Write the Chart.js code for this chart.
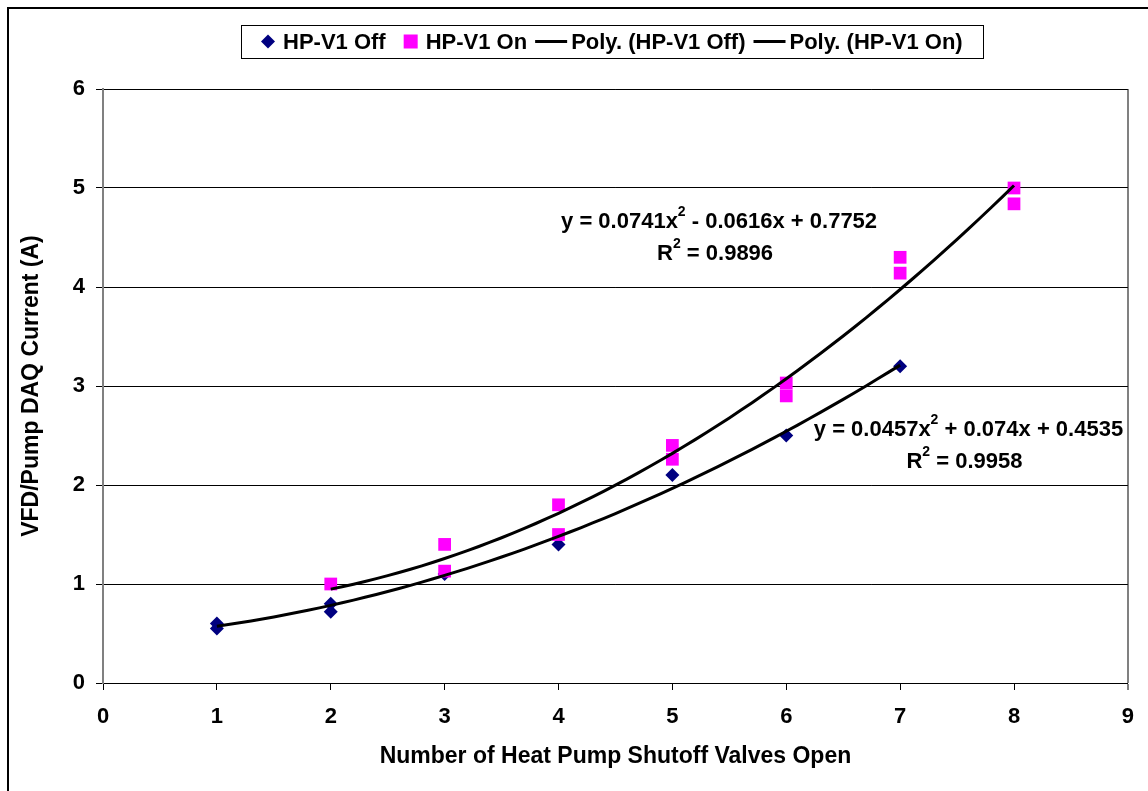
<!DOCTYPE html>
<html>
<head>
<meta charset="utf-8">
<title>VFD/Pump DAQ Current</title>
<script src="https://cdn.jsdelivr.net/npm/chart.js@4.4.0/dist/chart.umd.min.js"></script>
<style>
  html, body { margin: 0; padding: 0; background: #fff; }
  #wrap { width: 1148px; height: 791px; }
</style>
</head>
<body>
<div id="wrap"><canvas id="valveChart"></canvas></div>
<script>
// measured points: valves open vs. current
const offX = [1, 1, 2, 2, 3, 4, 5, 6, 7];
const offY = [0.6, 0.55, 0.8, 0.72, 1.1, 1.4, 2.1, 2.5, 3.2];
const onX = [2, 3, 3, 4, 4, 5, 5, 6, 6, 7, 7, 8, 8];
const onY = [1.0, 1.4, 1.13, 1.8, 1.5, 2.4, 2.26, 3.03, 2.9, 4.3, 4.14, 5.0, 4.84];

// 2nd order fits: [c, b, a] for a*x^2 + b*x + c
const offFit = [0.4535, 0.074, 0.0457];
const onFit = [0.7752, -0.0616, 0.0741];
const offRange = [1, 7];
const onRange = [2, 8];
const offR2 = 0.9958;
const onR2 = 0.9896;

const xTicks = [0, 1, 2, 3, 4, 5, 6, 7, 8, 9];
const yTicks = [0, 1, 2, 3, 4, 5, 6];

const FONT = "'Liberation Sans', Arial, sans-serif";
const TXT = 22;

function toPoints(xs, ys) {
  return xs.map((x, i) => ({ x: x, y: ys[i] }));
}

function polyCurve(coef, range) {
  const pts = [];
  const steps = 60;
  for (let i = 0; i <= steps; i++) {
    const x = range[0] + (range[1] - range[0]) * i / steps;
    pts.push({ x: x, y: coef[0] + coef[1] * x + coef[2] * x * x });
  }
  return pts;
}

function fmt(v) {
  return String(Math.abs(v));
}

// equation text split into [normal, superscript, normal]
function eqParts(coef) {
  const s1 = coef[1] < 0 ? ' - ' : ' + ';
  const s0 = coef[0] < 0 ? ' - ' : ' + ';
  return ['y = ' + fmt(coef[2]) + 'x', '2', s1 + fmt(coef[1]) + 'x' + s0 + fmt(coef[0])];
}

// trendline labels, anchored in data units
const eqLabels = [
  { coef: onFit, r2: onR2, x: 5.41, y: 4.66 },
  { coef: offFit, r2: offR2, x: 7.6, y: 2.56 }
];

function drawSupText(ctx, parts, cx, cy, size) {
  const big = 'bold ' + size + 'px ' + FONT;
  const small = 'bold ' + Math.round(size * 0.62) + 'px ' + FONT;
  ctx.font = big;
  const w0 = ctx.measureText(parts[0]).width;
  const w2 = ctx.measureText(parts[2]).width;
  ctx.font = small;
  const w1 = ctx.measureText(parts[1]).width;
  let x = cx - (w0 + w1 + w2) / 2;
  ctx.textAlign = 'left';
  ctx.textBaseline = 'middle';
  ctx.font = big;
  ctx.fillText(parts[0], x, cy);
  x += w0;
  ctx.font = small;
  ctx.fillText(parts[1], x, cy - size * 0.42);
  x += w1;
  ctx.font = big;
  ctx.fillText(parts[2], x, cy);
}

const equationPlugin = {
  id: 'equations',
  afterDatasetsDraw(chart) {
    const ctx = chart.ctx;
    const xs = chart.scales.x, ys = chart.scales.y;
    ctx.save();
    ctx.fillStyle = '#000';
    eqLabels.forEach(l => {
      const px = xs.getPixelForValue(l.x);
      const py = ys.getPixelForValue(l.y);
      drawSupText(ctx, eqParts(l.coef), px, py, TXT);
      drawSupText(ctx, ['R', '2', ' = ' + l.r2], px - 4, py + 32, TXT);
    });
    ctx.restore();
  }
};

const legendItems = [
  { kind: 'diamond', color: '#000080', text: 'HP-V1 Off' },
  { kind: 'square', color: '#FF00FF', text: 'HP-V1 On' },
  { kind: 'line', color: '#000', text: 'Poly. (HP-V1 Off)' },
  { kind: 'line', color: '#000', text: 'Poly. (HP-V1 On)' }
];

const boxLegendPlugin = {
  id: 'boxLegend',
  afterDraw(chart) {
    const ctx = chart.ctx;
    ctx.save();
    ctx.font = 'bold ' + TXT + 'px ' + FONT;
    const pad = 20, gapAfter = 18;
    const widths = legendItems.map(it => {
      const mw = it.kind === 'line' ? 32 : 14;
      const g = it.kind === 'line' ? 4 : 8;
      return { mw: mw, g: g, tw: ctx.measureText(it.text).width };
    });
    const gapBefore = i => (legendItems[i].kind === 'line' ? 8 : gapAfter);
    let total = pad * 2;
    widths.forEach((w, i) => {
      total += w.mw + w.g + w.tw + (i > 0 ? gapBefore(i) : 0);
    });
    const cx = 612, top = 25, h = 33;
    const left = Math.round(cx - total / 2);
    ctx.fillStyle = '#fff';
    ctx.fillRect(left, top, total, h);
    ctx.strokeStyle = '#000';
    ctx.lineWidth = 1;
    ctx.strokeRect(left + 0.5, top + 0.5, Math.round(total), h);
    const my = top + h / 2;
    let x = left + pad;
    legendItems.forEach((it, i) => {
      const w = widths[i];
      if (i > 0) x += gapBefore(i);
      ctx.fillStyle = it.color;
      ctx.strokeStyle = it.color;
      if (it.kind === 'diamond') {
        ctx.beginPath();
        ctx.moveTo(x + 7, my - 7);
        ctx.lineTo(x + 14, my);
        ctx.lineTo(x + 7, my + 7);
        ctx.lineTo(x, my);
        ctx.closePath();
        ctx.fill();
      } else if (it.kind === 'square') {
        ctx.fillRect(x, my - 7, 14, 14);
      } else {
        ctx.lineWidth = 3;
        ctx.beginPath();
        ctx.moveTo(x, my);
        ctx.lineTo(x + w.mw, my);
        ctx.stroke();
      }
      x += w.mw + w.g;
      ctx.fillStyle = '#000';
      ctx.textAlign = 'left';
      ctx.textBaseline = 'middle';
      ctx.fillText(it.text, x, my + 1);
      x += w.tw;
    });
    ctx.restore();
  }
};

const framePlugin = {
  id: 'frame',
  beforeDraw(chart) {
    const ctx = chart.ctx;
    ctx.save();
    ctx.fillStyle = '#fff';
    ctx.fillRect(0, 0, chart.width, chart.height);
    ctx.restore();
  },
  afterDraw(chart) {
    const ctx = chart.ctx;
    ctx.save();
    ctx.strokeStyle = '#000';
    ctx.lineWidth = 2;
    ctx.strokeRect(8, 8, chart.width + 20, chart.height + 20);
    ctx.restore();
  }
};

const tickFont = { family: FONT, size: TXT, weight: 'bold' };
const titleFont = { family: FONT, size: 23, weight: 'bold' };

const ctx = document.getElementById('valveChart').getContext('2d');
new Chart(ctx, {
  type: 'scatter',
  data: {
    datasets: [
      {
        label: 'Poly. (HP-V1 Off)',
        data: polyCurve(offFit, offRange),
        showLine: true,
        borderColor: '#000',
        borderWidth: 3,
        pointRadius: 0,
        fill: false,
        order: 0
      },
      {
        label: 'Poly. (HP-V1 On)',
        data: polyCurve(onFit, onRange),
        showLine: true,
        borderColor: '#000',
        borderWidth: 3,
        pointRadius: 0,
        fill: false,
        order: 0
      },
      {
        label: 'HP-V1 On',
        data: toPoints(onX, onY),
        pointStyle: 'rect',
        pointRadius: 9,
        backgroundColor: '#FF00FF',
        borderColor: '#FF00FF',
        borderWidth: 0,
        order: 1
      },
      {
        label: 'HP-V1 Off',
        data: toPoints(offX, offY),
        pointStyle: 'rectRot',
        pointRadius: 7,
        backgroundColor: '#000080',
        borderColor: '#000080',
        borderWidth: 0,
        order: 2
      }
    ]
  },
  options: {
    responsive: true,
    maintainAspectRatio: false,
    animation: false,
    layout: { padding: { top: 89, left: 10, right: 20, bottom: 0 } },
    plugins: {
      legend: { display: false },
      tooltip: { enabled: false }
    },
    scales: {
      x: {
        type: 'linear',
        min: xTicks[0],
        max: xTicks[xTicks.length - 1],
        afterBuildTicks: s => { s.ticks = xTicks.map(v => ({ value: v })); },
        afterFit: s => { s.height = 108; },
        ticks: { color: '#000', font: tickFont, padding: 14, maxRotation: 0 },
        grid: {
          color: c => (c.tick && c.tick.value === 9 ? '#808080' : 'rgba(0,0,0,0)'),
          lineWidth: c => (c.tick && c.tick.value === 9 ? 2 : 1),
          tickColor: '#000',
          tickLength: 7,
          tickWidth: 1
        },
        border: { color: '#000', width: 1 },
        title: {
          display: true,
          text: 'Number of Heat Pump Shutoff Valves Open',
          color: '#000',
          font: titleFont,
          padding: { top: 0, bottom: 21 }
        }
      },
      y: {
        min: yTicks[0],
        max: yTicks[yTicks.length - 1],
        afterBuildTicks: s => { s.ticks = yTicks.map(v => ({ value: v })); },
        afterFit: s => { s.width = 93; },
        ticks: { color: '#000', font: tickFont, padding: 11 },
        grid: {
          color: '#000',
          lineWidth: 1,
          tickColor: '#000',
          tickLength: 7
        },
        border: { color: '#808080', width: 2 },
        title: {
          display: true,
          text: 'VFD/Pump DAQ Current (A)',
          color: '#000',
          font: titleFont,
          padding: { top: 8, bottom: 0 }
        }
      }
    }
  },
  plugins: [framePlugin, equationPlugin, boxLegendPlugin]
});
</script>
</body>
</html>
